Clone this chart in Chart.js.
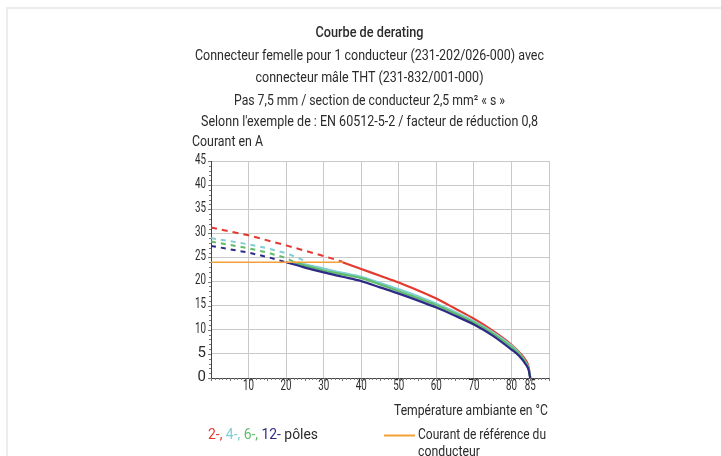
<!DOCTYPE html>
<html>
<head>
<meta charset="utf-8">
<script src="https://cdn.jsdelivr.net/npm/chart.js@4/dist/chart.umd.min.js"></script>
<style>
html,body{margin:0;padding:0;background:#fff;}
canvas{display:block;}
</style>
</head>
<body>
<canvas id="c" width="721" height="456"></canvas>
<script>
// ---- data ----
const titleLines = [
  "Courbe de derating",
  "Connecteur femelle pour 1 conducteur (231-202/026-000) avec",
  "connecteur mâle THT (231-832/001-000)",
  "Pas 7,5 mm / section de conducteur 2,5 mm² « s »",
  "Selonn l'exemple de : EN 60512-5-2 / facteur de réduction 0,8"
];
const yAxisTitle = "Courant en A";
const xAxisTitle = "Température ambiante en °C";
const xTickLabels = [10, 20, 30, 40, 50, 60, 70, 80, 85];
const xGridValues = [0, 10, 20, 30, 40, 50, 60, 70, 80, 90];
const yTickLabels = [0, 5, 10, 15, 20, 25, 30, 35, 40, 45];

// reference current of the conductor
const refT = [0, 35];
const refI = [24, 24];

// 2-pole (red)
const p2DashT = [0, 10, 20, 30, 35];
const p2DashI = [31.2, 29.6, 27.5, 25.3, 24.1];
const p2T = [35, 40, 45, 50, 55, 60, 65, 70, 75, 80, 82, 84, 84.6, 85];
const p2I = [24.0, 22.6, 21.2, 19.8, 18.2, 16.5, 14.4, 12.3, 9.8, 6.9, 5.4, 3.4, 2.2, 0];

// 4-pole (cyan)
const p4DashT = [0, 5, 10, 15, 20, 25];
const p4DashI = [29.0, 28.4, 27.7, 26.9, 25.9, 24.3];
const p4T = [23, 25, 30, 35, 40, 45, 50, 55, 60, 65, 70, 75, 80, 82, 84, 84.6, 85];
const p4I = [24.0, 23.6, 22.7, 21.8, 21.0, 19.7, 18.4, 17.0, 15.4, 13.7, 11.8, 9.5, 6.7, 5.2, 3.0, 1.9, 0];

// 6-pole (green)
const p6DashT = [0, 5, 10, 15, 20, 22];
const p6DashI = [28.3, 27.6, 26.9, 26.0, 24.9, 24.1];
const p6T = [22, 25, 30, 35, 40, 45, 50, 55, 60, 65, 70, 75, 80, 82, 84, 84.6, 85];
const p6I = [24.0, 23.3, 22.3, 21.5, 20.7, 19.4, 18.0, 16.6, 15.1, 13.4, 11.5, 9.2, 6.4, 5.0, 2.9, 1.8, 0];

// 12-pole (blue)
const p12DashT = [0, 5, 10, 15, 20];
const p12DashI = [27.4, 26.7, 26.0, 25.1, 24.0];
const p12T = [20, 25, 30, 35, 40, 45, 50, 55, 60, 65, 70, 75, 80, 82, 84, 84.6, 85];
const p12I = [24.0, 22.9, 21.9, 21.0, 20.1, 18.8, 17.5, 16.1, 14.6, 12.9, 11.1, 8.8, 5.9, 4.6, 2.6, 1.6, 0];

// ---- colours ----
const RED = '#e5392f', CYAN = '#7fcfd2', GREEN = '#5fbc69', BLUE = '#2d2a88', ORANGE = '#f4a03a';
const TEXT = '#2b2b2b';
const FONT = "Roboto, 'Liberation Sans', sans-serif";

const pts = (t, v) => t.map((x, i) => ({x: x, y: v[i]}));
function solid(t, v, color, order) {
  return {data: pts(t, v), borderColor: color, borderWidth: 2.2, showLine: true, pointRadius: 0,
          cubicInterpolationMode: 'monotone', fill: false, order: order};
}
function dashed(t, v, color, dash, order) {
  return {data: pts(t, v), borderColor: color, borderWidth: 2, showLine: true, pointRadius: 0,
          borderDash: dash, fill: false, order: order, tension: 0};
}

const datasets = [
  dashed(p2DashT, p2DashI, RED, [6, 5], 9),
  dashed(p4DashT, p4DashI, CYAN, [5, 5], 8),
  dashed(p6DashT, p6DashI, GREEN, [5, 5], 7),
  dashed(p12DashT, p12DashI, BLUE, [5, 5], 6),
  solid(p2T, p2I, RED, 5),
  solid(p4T, p4I, CYAN, 4),
  solid(p6T, p6I, GREEN, 3),
  solid(p12T, p12I, BLUE, 2),
  {data: pts(refT, refI), borderColor: ORANGE, borderWidth: 1.6, showLine: true, pointRadius: 0, order: 1}
];

function txt(ctx, s, x, y, maxW, size, align, color, weight) {
  ctx.save();
  ctx.font = (weight || '400') + ' ' + size + 'px ' + FONT;
  ctx.fillStyle = color || TEXT;
  ctx.textAlign = align || 'left';
  ctx.textBaseline = 'middle';
  const w = ctx.measureText(s).width;
  if (maxW && w > maxW) ctx.fillText(s, x, y, maxW); else ctx.fillText(s, x, y);
  ctx.restore();
}

const decor = {
  id: 'decor',
  beforeDraw(chart) {
    const c = chart.ctx;
    c.save();
    c.fillStyle = '#fff';
    c.fillRect(0, 0, chart.width, chart.height);
    c.strokeStyle = '#ededed';
    c.lineWidth = 2;
    c.beginPath();
    c.moveTo(7, 456); c.lineTo(7, 8); c.lineTo(721, 8);
    c.stroke();
    c.restore();
  },
  afterDraw(chart) {
    const c = chart.ctx;
    const xs = chart.scales.x, ys = chart.scales.y;
    const a = chart.chartArea;
    // minor ticks
    c.save();
    c.strokeStyle = '#777';
    c.lineWidth = 1;
    c.beginPath();
    for (let v = 0; v <= 45; v++) {
      const y = Math.round(ys.getPixelForValue(v)) + 0.5;
      const len = v % 5 === 0 ? 3 : 2;
      c.moveTo(a.left - len, y); c.lineTo(a.left, y);
    }
    for (let v = 0; v <= 90; v++) {
      const x = Math.round(xs.getPixelForValue(v)) + 0.5;
      const len = v % 5 === 0 ? 3 : 2;
      c.moveTo(x, a.bottom); c.lineTo(x, a.bottom + len);
    }
    c.stroke();
    c.restore();
    // tick labels
    xTickLabels.forEach(v => txt(c, String(v), xs.getPixelForValue(v), a.bottom + 8, 11, 15, 'center'));
    yTickLabels.forEach(v => txt(c, String(v), a.left - 5, ys.getPixelForValue(v) - 1, 11, 15, 'right'));
    // titles
    const cx = 369.5;
    txt(c, titleLines[0], cx, 33, 108, 15, 'center', TEXT, '500');
    txt(c, titleLines[1], cx, 56, 349, 14.5, 'center');
    txt(c, titleLines[2], cx, 78, 228, 14.5, 'center');
    txt(c, titleLines[3], cx, 101, 271, 14.5, 'center');
    txt(c, titleLines[4], cx, 122, 337, 14.5, 'center');
    txt(c, yAxisTitle, 192, 142, 71, 14.5, 'left');
    txt(c, xAxisTitle, 548, 411, 154, 14.5, 'right');
    // legend: poles
    const parts = [["2-, ", RED], ["4-, ", CYAN], ["6-, ", GREEN], ["12-", BLUE], [" pôles", TEXT]];
    let lx = 208;
    c.save();
    c.font = '400 14.5px ' + FONT;
    const total = parts.reduce((s, p) => s + c.measureText(p[0]).width, 0);
    const k = Math.min(1, 110 / total);
    c.restore();
    parts.forEach(p => {
      c.save();
      c.font = '400 14.5px ' + FONT;
      const w = c.measureText(p[0]).width * k;
      c.restore();
      txt(c, p[0], lx, 435, w, 14.5, 'left', p[1]);
      lx += w;
    });
    // legend: reference current
    c.save();
    c.strokeStyle = ORANGE;
    c.lineWidth = 2;
    c.beginPath();
    c.moveTo(384, 435.5); c.lineTo(415, 435.5);
    c.stroke();
    c.restore();
    txt(c, "Courant de référence du", 418, 435, 128, 14.5, 'left');
    txt(c, "conducteur", 418, 452, 62, 14.5, 'left');
  }
};

new Chart(document.getElementById('c'), {
  type: 'scatter',
  data: {datasets: datasets},
  plugins: [decor],
  options: {
    responsive: false,
    animation: false,
    devicePixelRatio: 1,
    layout: {padding: {left: 0, right: 172, top: 161, bottom: 0}},
    plugins: {legend: {display: false}, title: {display: false}, tooltip: {enabled: false}},
    scales: {
      x: {
        type: 'linear', min: 0, max: 90,
        afterBuildTicks: s => { s.ticks = xGridValues.map(v => ({value: v})); },
        afterFit: s => { s.height = 78; },
        ticks: {display: false},
        grid: {color: '#c9c9c9', lineWidth: 1, drawTicks: false},
        border: {color: '#444', width: 1}
      },
      y: {
        type: 'linear', min: 0, max: 45,
        afterBuildTicks: s => { s.ticks = yTickLabels.map(v => ({value: v})); },
        afterFit: s => { s.width = 211; },
        ticks: {display: false},
        grid: {color: '#c9c9c9', lineWidth: 1, drawTicks: false},
        border: {color: '#444', width: 1}
      }
    }
  }
});
</script>
</body>
</html>
